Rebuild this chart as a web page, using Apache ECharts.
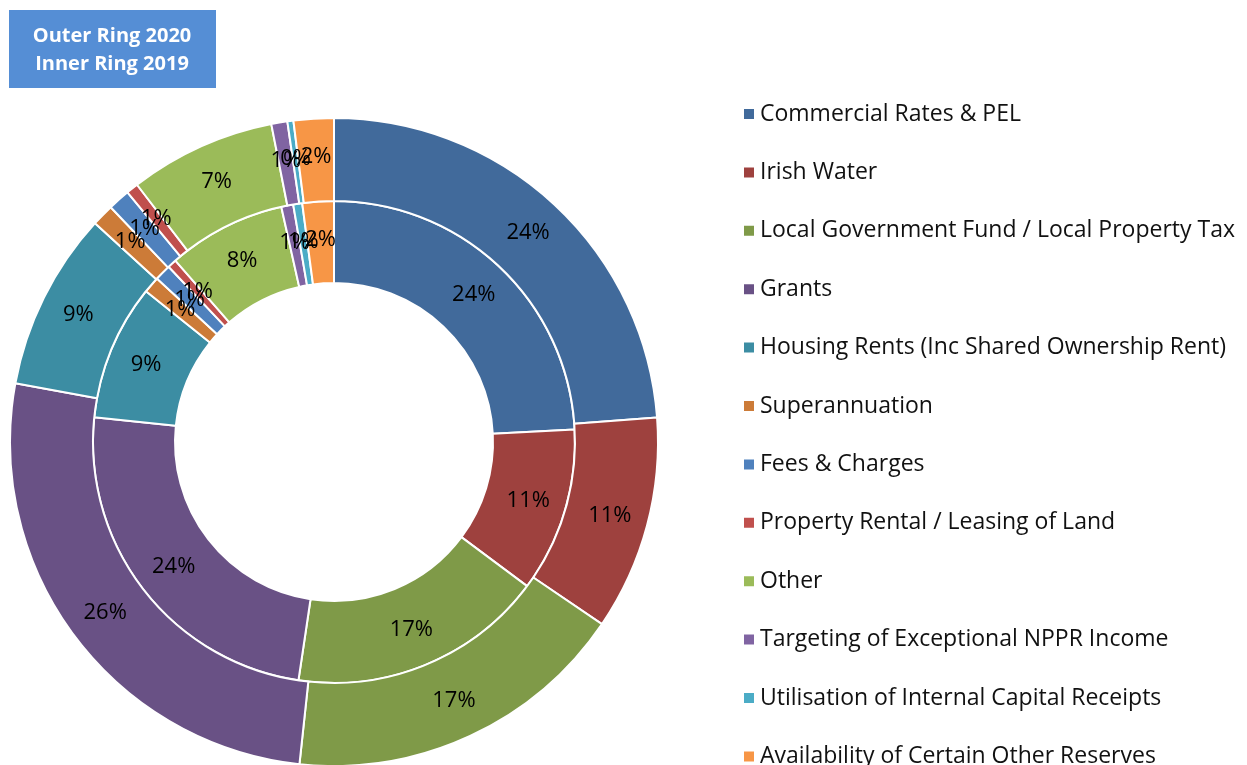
<!DOCTYPE html>
<html>
<head>
    <meta charset="utf-8">
    <script src="https://cdn.jsdelivr.net/npm/echarts@6/dist/echarts.min.js"></script>
</head>
<body style="margin:0;background:#fff;">
    <div id="main" style="width: 1247px;height:765px;"></div>
    <script type="text/javascript">

    var categories = [
        'Commercial Rates & PEL',
        'Irish Water',
        'Local Government Fund / Local Property Tax',
        'Grants',
        'Housing Rents (Inc Shared Ownership Rent)',
        'Superannuation',
        'Fees & Charges',
        'Property Rental / Leasing of Land',
        'Other',
        'Targeting of Exceptional NPPR Income',
        'Utilisation of Internal Capital Receipts',
        'Availability of Certain Other Reserves'
    ];
    // shares in %
    var values2020 = [23.8, 10.7, 17.2, 26.2, 8.9, 1.1, 1.1, 0.6, 7.3, 0.8, 0.3, 2.0];
    var values2019 = [24.1, 11.0, 17.1, 24.2, 9.1, 1.1, 1.1, 0.6, 7.9, 0.8, 0.6, 2.1];
    var colors = ['#416A9B', '#9E413E', '#7F9A48', '#695185', '#3C8DA3', '#CC7B38',
                  '#4F81BD', '#C0504D', '#9BBB59', '#8064A2', '#4BACC6', '#F79646'];

    var myChart = echarts.init(document.getElementById('main'));

    function toData(vals) {
        return categories.map(function (name, i) {
            return {name: name, value: vals[i]};
        });
    }

    var labelOpt = {
        show: true,
        position: 'inside',
        color: '#000',
        fontFamily: 'Open Sans',
        fontSize: 22,
        formatter: function (p) {
            return Math.round(p.percent) + '%';
        }
    };

    myChart.setOption({
        color: colors,
        animation: false,
        graphic: [{
            type: 'rect',
            shape: {x: 9, y: 10, width: 207, height: 78},
            style: {fill: '#558ED5'}
        }, {
            type: 'text',
            x: 112, y: 50,
            style: {
                text: 'Outer Ring 2020\nInner Ring 2019',
                fill: '#fff',
                font: 'bold 20px "Open Sans"',
                lineHeight: 28,
                align: 'center',
                verticalAlign: 'middle'
            }
        }],
        legend: {
            orient: 'vertical',
            left: 737,
            top: 97,
            height: 720,
            itemWidth: 12,
            itemHeight: 12,
            itemGap: 34.4,
            icon: 'rect',
            textStyle: {
                fontFamily: 'Open Sans',
                fontSize: 23,
                lineHeight: 24,
                color: '#111'
            },
            data: categories
        },
        series: [{
            name: '2019',
            type: 'pie',
            center: [334, 442],
            radius: [159, 241],
            startAngle: 90,
            avoidLabelOverlap: false,
            labelLayout: {hideOverlap: false},
            label: labelOpt,
            labelLine: {show: false},
            itemStyle: {borderColor: '#fff', borderWidth: 2},
            data: toData(values2019)
        }, {
            name: '2020',
            type: 'pie',
            center: [334, 442],
            radius: [241, 324],
            startAngle: 90,
            avoidLabelOverlap: false,
            labelLayout: {hideOverlap: false},
            label: labelOpt,
            labelLine: {show: false},
            itemStyle: {borderColor: '#fff', borderWidth: 2},
            data: toData(values2020)
        }]
    });
    </script>
</body>
</html>
